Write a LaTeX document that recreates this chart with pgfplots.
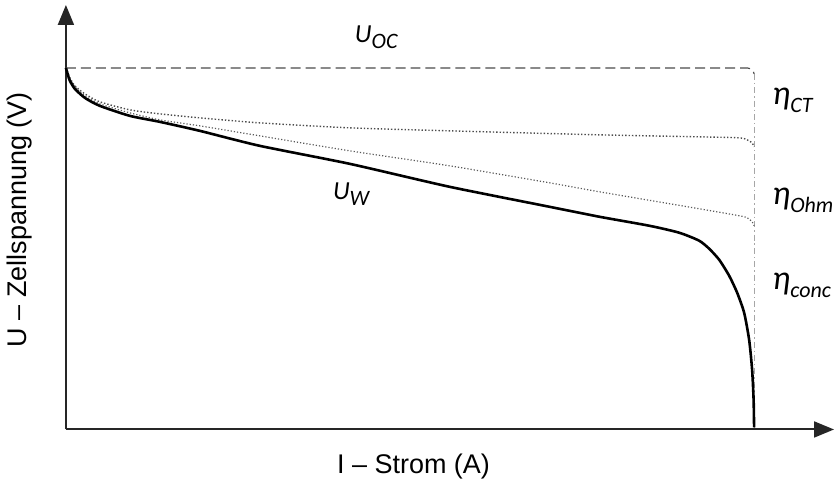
\documentclass[border=0pt]{standalone}
\usepackage{fontspec}
\setmainfont{Liberation Sans}
\newfontfamily\carlito{Carlito}
\usepackage{pgfplots}
\pgfplotsset{compat=1.18}
\usetikzlibrary{arrows.meta}
\newcommand{\ann}[2]{{\carlito\itshape #1\raisebox{-0.22em}{\fontsize{11}{13}\selectfont #2}}}
\begin{document}
\begin{tikzpicture}
\begin{axis}[
  x=0.5pt, y=0.5pt,
  xmin=0, xmax=769, ymin=0, ymax=425,
  axis lines=left,
  axis line style={line width=1pt, black!85, -{Triangle[length=10pt,width=8pt]}},
  xtick=\empty, ytick=\empty,
  clip=false,
]
\path (axis cs:-66,-56) rectangle (axis cs:769,430);
% U_OC dashed
\addplot[gray!60!black, line width=0.6pt, dash pattern=on 5pt off 2.5pt] coordinates {
(0,362) (682,362) (686,361) (688,359) (689,356)};
% vertical dash-dot
\addplot[gray!70, line width=0.6pt, dash pattern=on 3pt off 1.5pt on 0.7pt off 1.5pt] coordinates {
(689,356) (689,0)};
% eta_CT boundary
\addplot[gray!60!black, line width=0.7pt, densely dotted, smooth, tension=0.4] coordinates {
(0,362) (2,357) (4,352) (9,344) (19,336) (34,328) (64,320) (94,316) (134,312) (194,307) (284,302) (384,299) (534,295) (634,293) (674,292) (682,290) (687,287) (689,283)};
% eta_Ohm boundary
\addplot[gray!70!black, line width=0.6pt, densely dotted, smooth, tension=0.4] coordinates {
(0,362) (2,356) (4,351) (9,343) (19,334) (34,326) (64,317) (94,310) (134,304) (194,294) (284,279) (384,264) (484,247) (534,238) (634,221) (674,214) (682,212) (687,208) (689,204)};
% U_W
\addplot[black, line width=1.3pt, smooth, tension=0.4] coordinates {
(0,362) (2,355) (4,349) (9,341) (19,332) (34,324) (64,314) (94,308) (134,299) (194,284) (284,266) (384,243) (484,223) (534,213) (584,204) (614,197) (634,189) (644,181) (654,170) (664,154) (672,137) (679,117) (684,90) (687,60) (688.5,30) (689,2)};
% labels
\node[rotate=90, font=\fontsize{13.5}{16}\selectfont] at (axis cs:-46,210) {U -- Zellspannung (V)};
\node[font=\fontsize{13.5}{16}\selectfont] at (axis cs:348,-37) {I -- Strom (A)};
\node[anchor=base west, inner sep=0pt, font=\fontsize{13}{15}\selectfont] at (axis cs:289,387) {\ann{U}{OC}};
\node[anchor=base west, inner sep=0pt, font=\fontsize{13}{15}\selectfont] at (axis cs:267,230) {\ann{U}{W}};
\node[anchor=base west, inner sep=0pt, font=\fontsize{17}{20}\selectfont] at (axis cs:707,325) {\ann{η}{CT}};
\node[anchor=base west, inner sep=0pt, font=\fontsize{17}{20}\selectfont] at (axis cs:707,225) {\ann{η}{Ohm}};
\node[anchor=base west, inner sep=0pt, font=\fontsize{17}{20}\selectfont] at (axis cs:707,140) {\ann{η}{conc}};
\end{axis}
\end{tikzpicture}
\end{document}
